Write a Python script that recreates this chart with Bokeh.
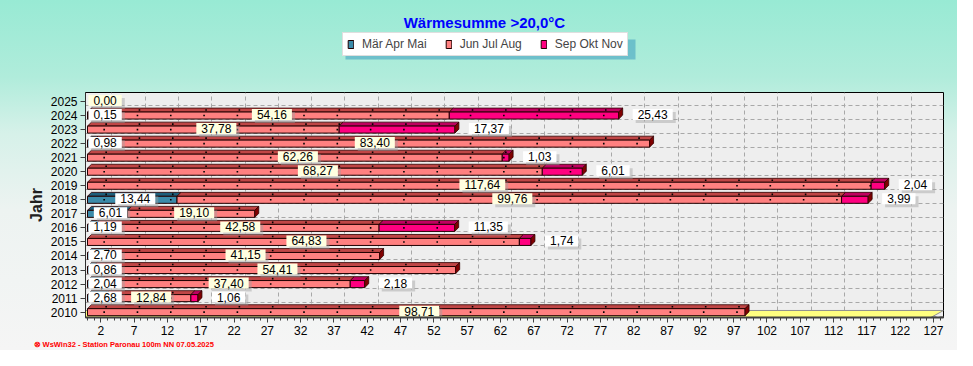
from bokeh.plotting import figure
from bokeh.layouts import column
from bokeh.models import (FixedTicker, Grid, Label, Legend, LegendItem,
                          ColumnDataSource, Range1d, Title)
from bokeh.core.properties import value
from bokeh.embed import file_html
from bokeh.resources import INLINE

# ---------------- data ----------------
years = [2010, 2011, 2012, 2013, 2014, 2015, 2016, 2017,
         2018, 2019, 2020, 2021, 2022, 2023, 2024, 2025]
mam = [None, 2.68, 2.04, 0.86, 2.70, None, 1.19, 6.01,
       13.44, None, None, None, 0.98, None, 0.15, None]
jja = [98.71, 12.84, 37.40, 54.41, 41.15, 64.83, 42.58, 19.10,
       99.76, 117.64, 68.27, 62.26, 83.40, 37.78, 54.16, 0.00]
son = [None, 1.06, 2.18, None, None, 1.74, 11.35, None,
       3.99, 2.04, 6.01, 1.03, None, 17.37, 25.43, None]
series_names = ["Mär Apr Mai", "Jun Jul Aug", "Sep Okt Nov"]
x_ticks = [2, 7, 12, 17, 22, 27, 32, 37, 42, 47, 52, 57, 62, 67, 72, 77,
           82, 87, 92, 97, 102, 107, 112, 117, 122, 127]
title_text = "Wärmesumme  >20,0°C"
axis_title = "Jahr"
footer_text = "⊗ WsWin32  -  Station Paronau 100m NN  07.05.2025"

# ---------------- style ----------------
front_colors = ["#3B8BAA", "#FF8080", "#FF0080"]
top_colors = ["#1D5F7C", "#C04646", "#C00060"]
cap_color = "#800000"
label_bg = ["#FFFFFF", "#FFFFE0", "#FFFFFF"]
FONT = "Liberation Sans"
H = 0.5      # front face height (category units)
DX = 0.6     # 3d depth (x units)
DY = 0.28    # 3d depth (y units)
XMIN, XMAX = -0.3, 128.5
YMIN, YMAX = 2009.62, 2025.64
W = 957
FL, FR = 85, 943          # frame left / right in page pixels
PXU = (FR - FL) / (XMAX - XMIN)
PAD = dict(left=5, right=5, top=1, bottom=1)

# ---------------- header (title + legend) ----------------
top = figure(width=W, height=91, output_backend="svg", toolbar_location=None,
             x_range=Range1d(FL, FR), y_range=Range1d(91, 0),
             x_axis_location=None, y_axis_location=None, title=None,
             min_border_left=0, min_border_right=0, min_border_top=0,
             min_border_bottom=0)
top.border_fill_color = None
top.background_fill_color = None
top.outline_line_color = None
top.xgrid.visible = False
top.ygrid.visible = False
# legend shadow
top.quad(left=[345], right=[635], top=[39], bottom=[59],
         fill_color="#3C9CC0", fill_alpha=0.55, line_color=None)
dummy = []
for s in range(3):
    dummy.append(top.hbar(y=[5000], left=[-5000], right=[-4999], height=1,
                          fill_color=front_colors[s], line_color="#200000"))
legend = Legend(items=[LegendItem(label=series_names[s], renderers=[dummy[s]])
                       for s in range(3)],
                orientation="horizontal", location=(342 - FL, 35),
                background_fill_color="white", background_fill_alpha=1,
                border_line_color="#C0C0C0", padding=4, spacing=18,
                label_standoff=8, glyph_width=7, glyph_height=10,
                label_height=12, margin=0,
                label_text_font=FONT, label_text_font_size="12px")
top.add_layout(legend)
top.add_layout(Label(x=486, y=22, text=title_text,
                     text_align="center", text_baseline="middle", text_color="#0000FF",
                     text_font=FONT, text_font_size="15px", text_font_style="bold"))

# ---------------- main chart ----------------
p = figure(width=W, height=259, output_backend="svg", toolbar_location=None,
           x_range=Range1d(XMIN, XMAX), y_range=Range1d(YMIN, YMAX),
           min_border_left=FL, min_border_right=W - FR, min_border_top=1,
           min_border_bottom=33, title=None)
p.border_fill_color = None
p.background_fill_color = "#EEEEEE"
p.outline_line_color = "black"
p.outline_line_width = 1
p.xgrid.visible = False
p.ygrid.visible = False

# back-wall grid (offset by the 3d depth)
vgrid = Grid(dimension=0, ticker=FixedTicker(ticks=[t + 1.65 for t in x_ticks]),
             grid_line_color="#A8A8A8", grid_line_dash="4 3")
hgrid = Grid(dimension=1, ticker=FixedTicker(ticks=[y - 0.285 for y in years] + [years[-1] + 0.715]),
             grid_line_color="#A8A8A8", grid_line_dash="4 3")
p.add_layout(vgrid)
p.add_layout(hgrid)

# floor
fy0, fy1 = YMIN, YMIN + 0.5
p.patch(x=[XMIN, x_ticks[-1] - 0.4, XMAX, XMAX, XMIN], y=[fy0, fy0, fy1, fy1, fy1],
        fill_color="#FFFF80", line_color="#909090", line_width=1)

# ---------------- bars ----------------
front = {s: dict(y=[], left=[], right=[]) for s in range(3)}
tops = {s: dict(xs=[], ys=[]) for s in range(3)}
caps = dict(xs=[], ys=[])
dots = dict(x=[], y=[])
labels = {s: dict(x=[], y=[], t=[], xo=[]) for s in range(3)}
series = [mam, jja, son]
for i, yr in enumerate(years):
    cum = 0.0
    last = None
    for s in range(3):
        v = series[s][i]
        if v is None:
            continue
        l, r = cum, cum + v
        txt = f"{v:.2f}".replace(".", ",")
        if s < 2:
            cx = (l + r) / 2
            half = 3.4 * len(txt) + 5          # approx half box width in px
            xo = max(3.0, half + 1 - (cx - XMIN) * PXU)
        else:
            cx = r
            xo = 14.0
        labels[s]["x"].append(cx)
        labels[s]["xo"].append(xo)
        labels[s]["y"].append(yr)
        labels[s]["t"].append(txt)
        if v > 0:
            front[s]["y"].append(yr)
            front[s]["left"].append(l)
            front[s]["right"].append(r)
            tops[s]["xs"].append([l, l + DX, r + DX, r])
            tops[s]["ys"].append([yr + H / 2, yr + H / 2 + DY, yr + H / 2 + DY, yr + H / 2])
            last = (r, yr)
        cum = r
    if last is not None:
        r, yr = last
        caps["xs"].append([r, r + DX, r + DX, r])
        caps["ys"].append([yr - H / 2, yr - H / 2 + DY, yr + H / 2 + DY, yr + H / 2])
        for t in x_ticks:
            if t + 0.5 < r:
                dots["x"] += [t + 0.5, t + 0.8]
                dots["y"] += [yr, yr + H / 2 + DY / 2]

for s in range(3):
    p.patches(xs="xs", ys="ys", source=ColumnDataSource(tops[s]),
              fill_color=top_colors[s], line_color="#300000", line_width=0.8)
    p.hbar(y="y", left="left", right="right", height=H,
           source=ColumnDataSource(front[s]),
           fill_color=front_colors[s], line_color="#200000", line_width=1)
p.patches(xs="xs", ys="ys", source=ColumnDataSource(caps),
          fill_color=cap_color, line_color="#300000", line_width=0.8)
p.scatter(x="x", y="y", source=ColumnDataSource(dots), marker="square",
          size=1.6, fill_color="black", line_color=None)

# ---------------- value labels ----------------
for s in range(3):
    src = ColumnDataSource(labels[s])
    src.data["xo_sh"] = [v + 3 for v in labels[s]["xo"]]
    align = "center" if s < 2 else "left"
    p.text(x="x", y="y", text="t", source=src, text_align=align,
           text_baseline="middle", x_offset="xo_sh", y_offset=2,
           text_font=value(FONT), text_font_size="12px", text_alpha=0,
           background_fill_color="#A0A0A0", background_fill_alpha=0.45,
           padding=PAD)
    p.text(x="x", y="y", text="t", source=src, text_align=align,
           text_baseline="middle", x_offset="xo", y_offset=-1,
           text_font=value(FONT), text_font_size="12px", text_color="black",
           background_fill_color=label_bg[s], padding=PAD)

# ---------------- axes ----------------
p.xaxis.ticker = FixedTicker(ticks=x_ticks, minor_ticks=list(range(0, 129)))
p.xaxis.major_tick_out = 5
p.xaxis.major_tick_in = 0
p.xaxis.minor_tick_out = 3
p.xaxis.minor_tick_in = 0
p.xaxis.major_label_standoff = 3
p.xaxis.axis_line_color = "#404040"
p.xaxis.axis_line_width = 2
p.xaxis.major_tick_line_color = "#404040"
p.xaxis.minor_tick_line_color = "#404040"

p.yaxis.ticker = FixedTicker(ticks=years)
p.yaxis.major_tick_out = 5
p.yaxis.major_tick_in = 0
p.yaxis.minor_tick_line_color = None
p.yaxis.major_label_standoff = 3
p.yaxis.axis_line_color = "#303030"
p.yaxis.major_tick_line_color = "#404040"
p.yaxis.axis_label = axis_title
p.yaxis.axis_label_standoff = 3
p.yaxis.axis_label_text_font = FONT
p.yaxis.axis_label_text_font_size = "16px"
p.yaxis.axis_label_text_font_style = "bold"
p.yaxis.axis_label_text_color = "#202020"
for ax in (p.xaxis, p.yaxis):
    ax.major_label_text_font = FONT
    ax.major_label_text_font_size = "12px"
    ax.major_label_text_color = "black"

# footer
p.add_layout(Title(text=footer_text, align="left", offset=-52, standoff=0,
                   text_color="#FF0000", text_font=FONT, text_font_size="7.5px",
                   text_font_style="bold"), "below")

layout = column(top, p, spacing=0)
layout.styles = {"background-image":
                 "linear-gradient(180deg, #98EAD4 0%, #B0ECDB 22%, #D6F1E9 38%, "
                 "#EDF3F1 60%, #F5F5F5 100%)"}

open("out.html", "w").write(file_html(layout, INLINE))
